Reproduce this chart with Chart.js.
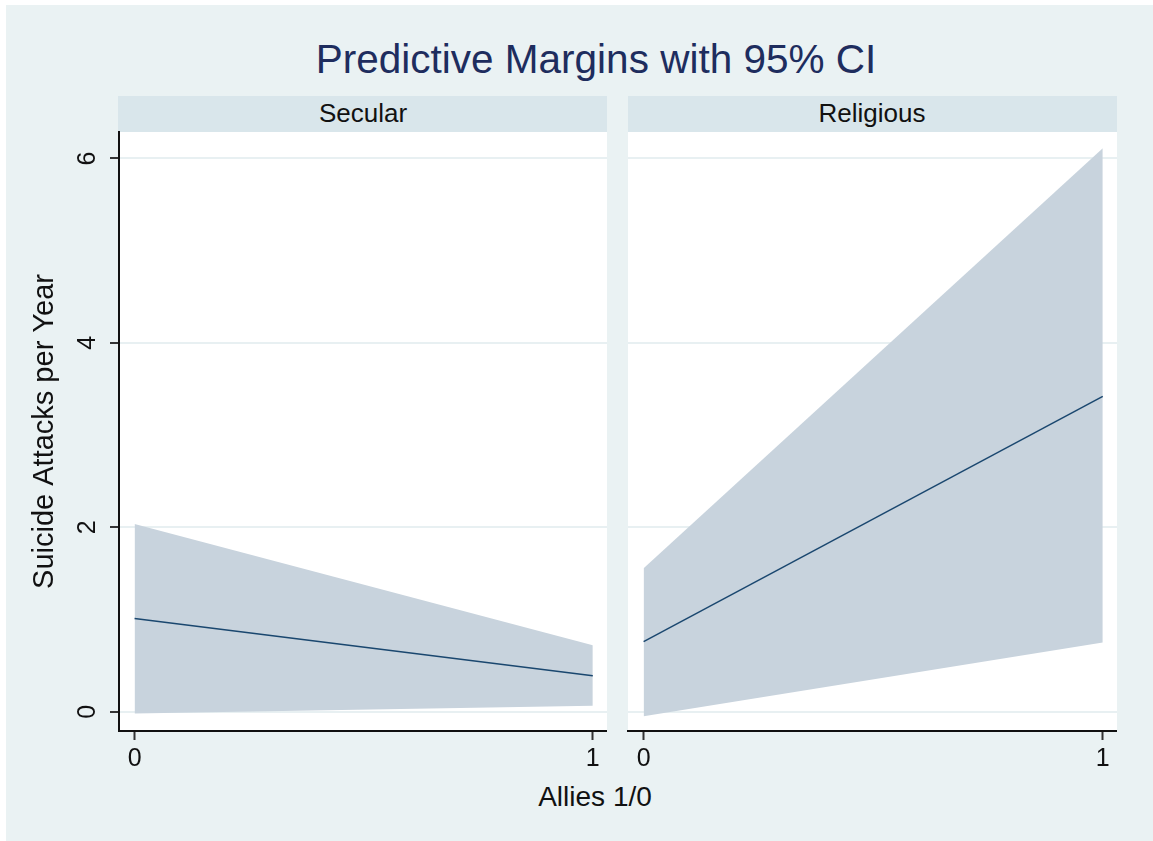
<!DOCTYPE html>
<html>
<head>
<meta charset="utf-8">
<title>Predictive Margins with 95% CI</title>
<script src="https://cdn.jsdelivr.net/npm/chart.js@4.4.1/dist/chart.umd.min.js"></script>
<style>
  html, body { margin: 0; padding: 0; background: #ffffff; }
  body { position: relative; width: 1153px; height: 841px; overflow: hidden;
         font-family: Arial, "Liberation Sans", sans-serif; }
  #frame { position: absolute; left: 6px; top: 5px; width: 1147px; height: 836px; background: #EAF2F3; }
  .strip { position: absolute; top: 96px; height: 36px; background: #D9E6EB; }
  .label { position: absolute; white-space: nowrap; transform: translateX(-50%); }
  canvas { position: absolute; top: 0; }
</style>
</head>
<body>
<div id="frame"></div>
<div class="strip" style="left:118px; width:489px;"></div>
<div class="strip" style="left:628px; width:489px;"></div>

<div class="label" id="title" style="left:596px; top:39px; font-size:40.5px; line-height:40px; color:#1E2D5E;">Predictive Margins with 95% CI</div>
<div class="label" id="strip0" style="left:363px; top:100px; font-size:26px; line-height:26px; color:#111;"></div>
<div class="label" id="strip1" style="left:872px; top:100px; font-size:26px; line-height:26px; color:#111;"></div>
<div class="label" id="xtitle" style="left:595px; top:783px; font-size:28px; line-height:28px; color:#111;">Allies 1/0</div>

<canvas id="panelSecular" width="607" height="841" style="left:0px;"></canvas>
<canvas id="panelReligious" width="497" height="841" style="left:620px;"></canvas>

<script>
// Allies indicator values and panel names
const alliesValues = [0, 1];
const panelNames = ['Secular', 'Religious'];

// Predicted suicide attacks per year with 95% confidence bounds
const secularMargin = [1.01, 0.39];
const secularUpper  = [2.035, 0.72];
const secularLower  = [-0.02, 0.065];

const religiousMargin = [0.76, 3.42];
const religiousUpper  = [1.555, 6.11];
const religiousLower  = [-0.05, 0.75];

// Axis tick values
const yTickValues = [0, 2, 4, 6];
const xTickValues = [0, 1];

const FONT = 'Arial, "Liberation Sans", sans-serif';
const BAND = '#C8D3DD';
const LINE = '#1A476F';

document.getElementById('strip0').textContent = panelNames[0];
document.getElementById('strip1').textContent = panelNames[1];

function pts(vals) {
  return alliesValues.map((x, i) => ({ x: x, y: vals[i] }));
}

// White plot region behind the grid and data
const plotBackground = {
  id: 'plotBackground',
  beforeDraw(chart) {
    const { ctx, chartArea: a } = chart;
    ctx.save();
    ctx.fillStyle = '#ffffff';
    ctx.fillRect(a.left, a.top, a.right - a.left, a.bottom - a.top);
    ctx.restore();
  }
};

function makePanel(id, margin, upper, lower, first) {
  return new Chart(document.getElementById(id), {
    type: 'line',
    data: {
      datasets: [
        // predicted margin, drawn on top of the band
        { data: pts(margin), borderColor: LINE, borderWidth: 1.5, pointRadius: 0, fill: false },
        // confidence band: upper bound filled down to the lower bound
        { data: pts(lower), borderWidth: 0, pointRadius: 0, fill: false },
        { data: pts(upper), borderWidth: 0, pointRadius: 0, fill: '-1', backgroundColor: BAND }
      ]
    },
    options: {
      responsive: false,
      animation: false,
      events: [],
      layout: { padding: { top: 132, left: 0, right: 0, bottom: 0 } },
      plugins: { legend: { display: false }, tooltip: { enabled: false } },
      scales: {
        x: {
          type: 'linear',
          min: -0.034,
          max: 1.031,
          afterBuildTicks: ax => { ax.ticks = xTickValues.map(v => ({ value: v })); },
          afterFit: ax => { ax.height = 110; },
          grid: { drawOnChartArea: false, drawTicks: true, tickLength: 9, tickColor: '#333', tickWidth: 2 },
          border: { display: true, color: '#111', width: 2 },
          ticks: { padding: 4, color: '#111', font: { family: FONT, size: 25 }, maxRotation: 0, autoSkip: false }
        },
        y: {
          type: 'linear',
          min: -0.209,
          max: 6.287,
          afterBuildTicks: ax => { ax.ticks = yTickValues.map(v => ({ value: v })); },
          afterFit: ax => { ax.width = first ? 119 : 8; },
          grid: { color: '#E8F0F2', lineWidth: 2, drawTicks: first, tickLength: 9, tickColor: '#333', tickWidth: 2 },
          border: { display: first, color: '#111', width: 2 },
          ticks: {
            display: first, padding: 15, crossAlign: 'center',
            minRotation: 90, maxRotation: 90,
            color: '#111', font: { family: FONT, size: 25 }
          },
          title: {
            display: first, text: 'Suicide Attacks per Year', color: '#111',
            font: { family: FONT, size: 29, lineHeight: 1 },
            padding: { top: 30, bottom: 0 }
          }
        }
      }
    },
    plugins: [plotBackground]
  });
}

makePanel('panelSecular', secularMargin, secularUpper, secularLower, true);
makePanel('panelReligious', religiousMargin, religiousUpper, religiousLower, false);
</script>
</body>
</html>
